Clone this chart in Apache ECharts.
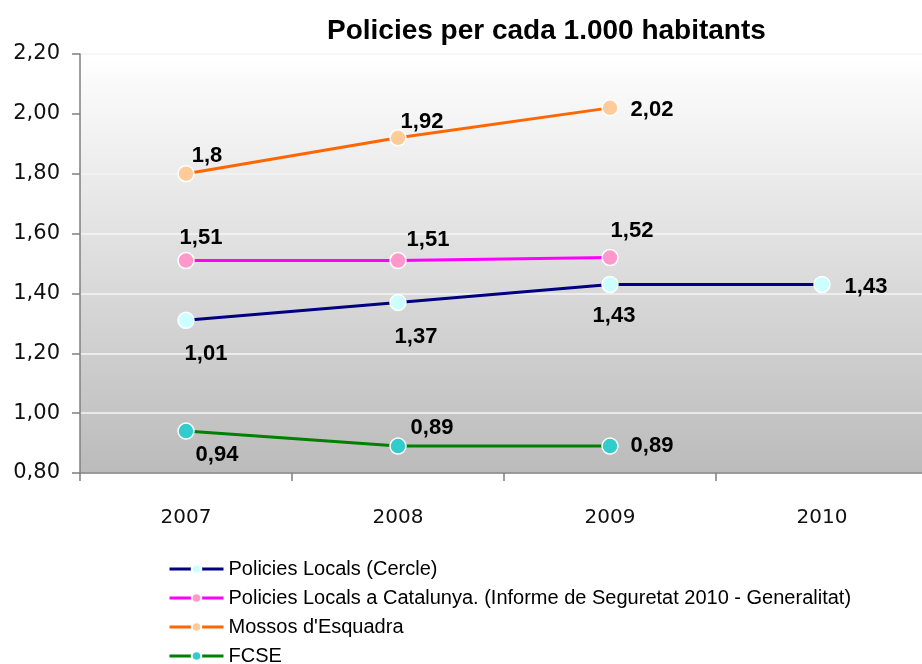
<!DOCTYPE html>
<html>
<head>
<meta charset="utf-8">
<script src="https://cdn.jsdelivr.net/npm/echarts@6/dist/echarts.min.js"></script>
<style>
html,body{margin:0;padding:0;background:#fff;overflow:hidden;}
#chart{width:928px;height:664px;}
</style>
</head>
<body>
<div id="chart"></div>
<script>
// ---- data ----
const years = ['2007', '2008', '2009', '2010'];
const seriesNames = [
  'Policies Locals (Cercle)',
  'Policies Locals a Catalunya. (Informe de Seguretat 2010 - Generalitat)',
  "Mossos d'Esquadra",
  'FCSE'
];
const localsCercle = [1.31, 1.37, 1.43, 1.43];
const localsCercleLabels = ['1,01', '1,37', '1,43', '1,43'];
const localsCatalunya = [1.51, 1.51, 1.52, null];
const mossos = [1.8, 1.92, 2.02, null];
const fcse = [0.94, 0.89, 0.89, null];
const yTicks = { min: 0.8, max: 2.2, step: 0.2 };

// ---- styling / layout (not data) ----
const lineColors = ['#000080', '#ff00ff', '#ff6600', '#008000'];
const markerColors = ['#ccffff', '#ff99cc', '#ffcc99', '#33cccc'];
const labelOffsets = [
  [[20, 34], [18, 35], [4, 31], [44, 2]],
  [[15, -23], [30, -21], [22, -27], null],
  [[21, -18], [24, -16], [42, 2], null],
  [[31, 24], [34, -18], [42, 0], null]
];

function fmt(v) { return String(v).replace('.', ','); }

function buildData(values, idx, labels) {
  return values.map(function (v, i) {
    if (v === null) return null;
    const off = labelOffsets[idx][i];
    return {
      value: v,
      label: {
        show: true,
        position: 'inside',
        offset: off,
        formatter: labels ? labels[i] : fmt(v)
      }
    };
  });
}

const allValues = [localsCercle, localsCatalunya, mossos, fcse];
const series = allValues.map(function (vals, idx) {
  return {
    name: seriesNames[idx],
    type: 'line',
    data: buildData(vals, idx, idx === 0 ? localsCercleLabels : null),
    symbol: 'circle',
    symbolSize: 16,
    lineStyle: { color: lineColors[idx], width: 3 },
    itemStyle: { color: markerColors[idx], borderColor: '#ffffff', borderWidth: 1.5 },
    label: {
      color: '#000',
      fontFamily: 'Liberation Sans',
      fontWeight: 'bold',
      fontSize: 22
    },
    emphasis: { disabled: true },
    z: 3
  };
});

const chart = echarts.init(document.getElementById('chart'), null, { renderer: 'canvas' });
chart.setOption({
  animation: false,
  backgroundColor: '#ffffff',
  title: {
    text: 'Policies per cada 1.000 habitants',
    left: 322,
    top: 12,
    textStyle: { fontFamily: 'Liberation Sans', fontWeight: 'bold', fontSize: 28, color: '#000' }
  },
  grid: {
    left: 80,
    right: 0,
    top: 54,
    bottom: 191,
    show: true,
    borderWidth: 0,
    backgroundColor: new echarts.graphic.LinearGradient(0, 0, 0, 1, [
      { offset: 0, color: '#ffffff' },
      { offset: 1, color: '#bbbbbb' }
    ])
  },
  legend: {
    orient: 'vertical',
    left: 163,
    top: 554,
    height: 140,
    itemWidth: 54,
    itemHeight: 12,
    itemGap: 9,
    data: seriesNames,
    lineStyle: { width: 3 },
    textStyle: { fontFamily: 'Liberation Sans', fontSize: 20, color: '#000', lineHeight: 20 }
  },
  xAxis: {
    type: 'category',
    data: years,
    boundaryGap: true,
    axisLine: { lineStyle: { color: '#7f7f7f', width: 1.5 } },
    axisTick: { show: true, length: 8, lineStyle: { color: '#7f7f7f', width: 1.5 } },
    axisLabel: { margin: 35, fontFamily: 'DejaVu Sans', fontSize: 20, color: '#111' },
    splitLine: { show: false }
  },
  yAxis: {
    type: 'value',
    min: yTicks.min,
    max: yTicks.max,
    interval: yTicks.step,
    axisLine: { show: true, lineStyle: { color: '#7f7f7f', width: 1.5 } },
    axisTick: { show: true, length: 8, lineStyle: { color: '#7f7f7f', width: 1.5 } },
    axisLabel: {
      margin: 20,
      fontFamily: 'DejaVu Sans',
      fontSize: 21,
      color: '#111',
      formatter: function (v) { return v.toFixed(2).replace('.', ','); }
    },
    splitLine: { show: true, lineStyle: { color: '#f4f4f4', width: 1.5 } }
  },
  series: series
});
</script>
</body>
</html>
